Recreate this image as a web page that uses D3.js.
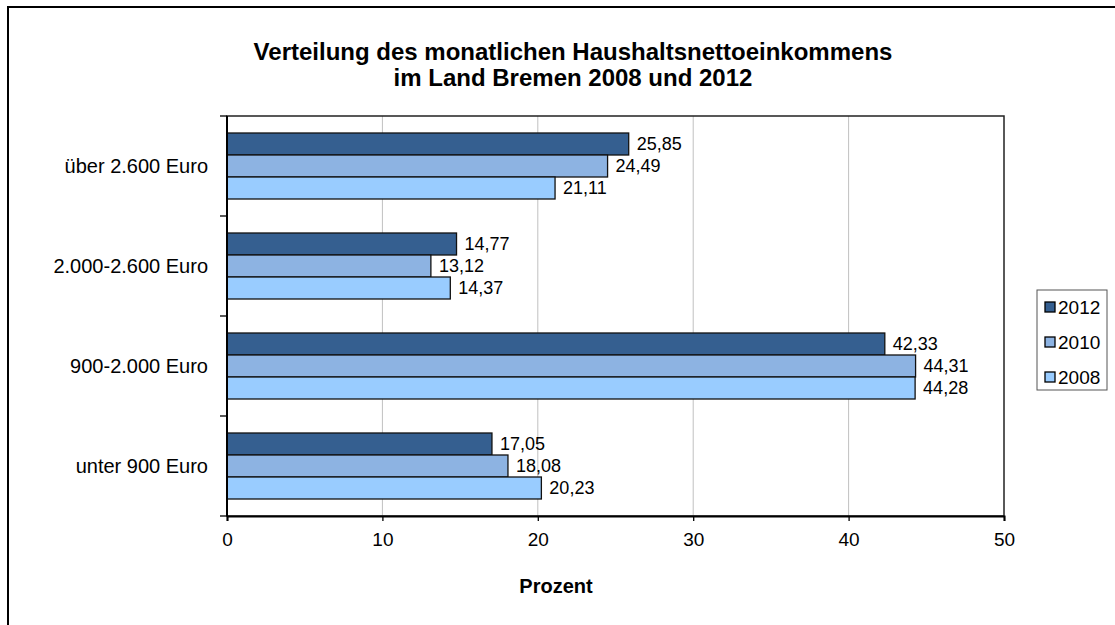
<!DOCTYPE html>
<html>
<head>
<meta charset="utf-8">
<script src="https://cdn.jsdelivr.net/npm/d3@7"></script>
<style>
  body { margin: 0; background: #fff; }
  text { font-family: Arial, "Liberation Sans", sans-serif; fill: #000; }
</style>
</head>
<body>
<script>
// categories from top to bottom
var categories = ["über 2.600 Euro", "2.000-2.600 Euro", "900-2.000 Euro", "unter 900 Euro"];
var years = ["2012", "2010", "2008"];
var values2012 = [25.85, 14.77, 42.33, 17.05];
var values2010 = [24.49, 13.12, 44.31, 18.08];
var values2008 = [21.11, 14.37, 44.28, 20.23];
var xTicks = [0, 10, 20, 30, 40, 50];
var colors = ["#355f90", "#8db3e2", "#99ccff"];

var series = [values2012, values2010, values2008];

var W = 1115, H = 625;
var plot = {left: 227, top: 116, right: 1004, bottom: 516};

var svg = d3.select("body").append("svg")
    .attr("width", W)
    .attr("height", H);

// outer chart frame (left and top only visible)
svg.append("path")
    .attr("d", "M8," + H + "V7H" + W)
    .attr("fill", "none")
    .attr("stroke", "#000")
    .attr("stroke-width", 2);

// title
var title = svg.append("text")
    .attr("text-anchor", "middle")
    .style("font-size", "24px")
    .style("font-weight", "bold");
title.append("tspan").attr("x", 573).attr("y", 60).text("Verteilung des monatlichen Haushaltsnettoeinkommens");
title.append("tspan").attr("x", 573).attr("y", 86).text("im Land Bremen 2008 und 2012");

var x = d3.scaleLinear().domain([0, 50]).range([plot.left, plot.right]);
var y = d3.scaleBand().domain(categories)
    .range([plot.top, plot.bottom])
    .paddingInner(0.34)
    .paddingOuter(0.17);
var yInner = d3.scaleBand().domain(years).range([0, y.bandwidth()]);

// gridlines
svg.append("g")
  .selectAll("line")
  .data(xTicks.filter(function(t) { return t > 0 && t < 50; }))
  .enter().append("line")
    .attr("x1", function(d) { return x(d); })
    .attr("x2", function(d) { return x(d); })
    .attr("y1", plot.top)
    .attr("y2", plot.bottom)
    .attr("stroke", "#c0c0c0")
    .attr("stroke-width", 1);

// plot frame
svg.append("rect")
    .attr("x", plot.left)
    .attr("y", plot.top)
    .attr("width", plot.right - plot.left)
    .attr("height", plot.bottom - plot.top)
    .attr("fill", "none")
    .attr("stroke", "#222")
    .attr("stroke-width", 1.5);

// bars
var groups = svg.append("g")
  .selectAll("g")
  .data(categories)
  .enter().append("g")
    .attr("transform", function(c) { return "translate(0," + y(c) + ")"; });

groups.each(function(c, i) {
  var g = d3.select(this);
  years.forEach(function(yr, s) {
    var v = series[s][i];
    g.append("rect")
      .attr("x", x(0))
      .attr("y", yInner(yr))
      .attr("width", x(v) - x(0))
      .attr("height", yInner.bandwidth())
      .attr("fill", colors[s])
      .attr("stroke", "#111")
      .attr("stroke-width", 1.3);
    g.append("text")
      .attr("x", x(v) + 8)
      .attr("y", yInner(yr) + yInner.bandwidth() / 2)
      .attr("dy", "0.35em")
      .style("font-size", "18px")
      .text(v.toFixed(2).replace(".", ","));
  });
});

// y axis (category) with ticks between groups
var yTickPos = d3.range(categories.length + 1).map(function(i) {
  return plot.top + i * y.step();
});
svg.append("g")
  .selectAll("line")
  .data(yTickPos)
  .enter().append("line")
    .attr("x1", plot.left - 7)
    .attr("x2", plot.left)
    .attr("y1", function(d) { return d; })
    .attr("y2", function(d) { return d; })
    .attr("stroke", "#000")
    .attr("stroke-width", 1.3);

svg.append("line")
    .attr("x1", plot.left).attr("x2", plot.left)
    .attr("y1", plot.top).attr("y2", plot.bottom)
    .attr("stroke", "#000").attr("stroke-width", 2);

svg.append("g")
  .selectAll("text")
  .data(categories)
  .enter().append("text")
    .attr("x", 208)
    .attr("y", function(c) { return y(c) + y.bandwidth() / 2; })
    .attr("dy", "0.35em")
    .attr("text-anchor", "end")
    .style("font-size", "20px")
    .text(function(c) { return c; });

// x axis
var xAxis = svg.append("g")
    .attr("transform", "translate(0," + plot.bottom + ")")
    .call(d3.axisBottom(x).tickValues(xTicks).tickSize(5).tickPadding(12));
xAxis.select(".domain").attr("stroke", "#000").attr("stroke-width", 2);
xAxis.selectAll(".tick line").attr("stroke", "#000").attr("stroke-width", 1.3);
xAxis.selectAll(".tick text")
    .style("font-size", "19px")
    .style("font-family", "Arial, 'Liberation Sans', sans-serif")
    .attr("fill", "#000");

svg.append("text")
    .attr("x", 556)
    .attr("y", 593)
    .attr("text-anchor", "middle")
    .style("font-size", "20px")
    .style("font-weight", "bold")
    .text("Prozent");

// legend
var legend = svg.append("g").attr("transform", "translate(1037,290)");
legend.append("rect")
    .attr("width", 70)
    .attr("height", 100)
    .attr("fill", "#fff")
    .attr("stroke", "#555")
    .attr("stroke-width", 1);
years.forEach(function(yr, s) {
  var cy = 17 + s * 35;
  legend.append("rect")
    .attr("x", 8)
    .attr("y", cy - 5)
    .attr("width", 10)
    .attr("height", 10)
    .attr("fill", colors[s])
    .attr("stroke", "#000")
    .attr("stroke-width", 1.3);
  legend.append("text")
    .attr("x", 21)
    .attr("y", cy)
    .attr("dy", "0.35em")
    .style("font-size", "19px")
    .text(yr);
});
</script>
</body>
</html>
